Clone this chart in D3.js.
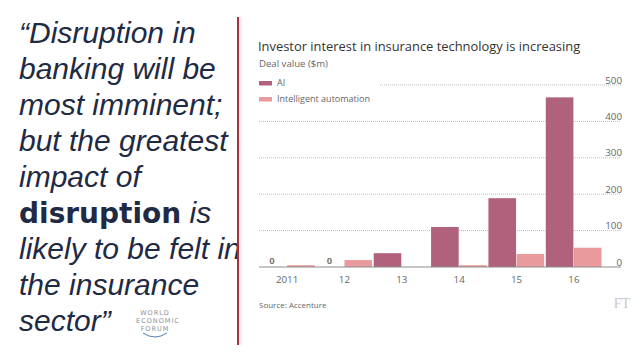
<!DOCTYPE html>
<html><head><meta charset="utf-8">
<script src="https://cdn.jsdelivr.net/npm/d3@7"></script>
<style>
html,body{margin:0;padding:0;background:#fff;}
svg{display:block;}
</style></head>
<body>
<svg id="c" width="638" height="359"></svg>
<script>
// ---- data ----
const years = ["2011", "12", "13", "14", "15", "16"];
const seriesNames = ["AI", "Intelligent automation"];
const aiValues = [0, 0, 38, 110, 189, 466];
const iaValues = [5, 19, 0, 5, 36, 53];
const yTicks = [0, 100, 200, 300, 400, 500];
const quoteLines = [
  [{t:"\u201CDisruption in", b:false}],
  [{t:"banking will be", b:false}],
  [{t:"most imminent;", b:false}],
  [{t:"but the greatest", b:false}],
  [{t:"impact of", b:false}],
  [{t:"disruption", b:true},{t:" is", b:false}],
  [{t:"likely to be felt in", b:false}],
  [{t:"the insurance", b:false}],
  [{t:"sector\u201D", b:false}]
];
const titleText = "Investor interest in insurance technology is increasing";
const subtitleText = "Deal value ($m)";
const sourceText = "Source: Accenture";

const colors = {AI:"#b0617b", IA:"#e89a9c"};
const svg = d3.select("#c");
const chartFont = "'Open Sans', Lato, sans-serif";

// ---- left quote ----
const q = svg.append("g").attr("fill", "#1f2a44");
quoteLines.forEach((line, i) => {
  const t = q.append("text").attr("x", 19).attr("y", 43 + i*36);
  line.forEach(seg => {
    t.append("tspan").text(seg.t)
      .attr("font-size", seg.b ? 28 : 30)
      .attr("font-family", seg.b ? "'DejaVu Sans', sans-serif" : "'Liberation Sans', Arial, sans-serif")
      .attr("font-weight", seg.b ? "bold" : "normal")
      .attr("font-style", seg.b ? "normal" : "italic");
  });
});

// WEF logo (text)
const wef = svg.append("g").attr("fill", "#8d9299").attr("font-family", "'DejaVu Sans', sans-serif")
  .attr("font-size", 6.5).attr("text-anchor", "middle").attr("letter-spacing", 1);
wef.append("text").attr("x", 155).attr("y", 315).text("WORLD");
wef.append("text").attr("x", 158).attr("y", 323).text("ECONOMIC");
wef.append("text").attr("x", 155).attr("y", 331).text("FORUM");
svg.append("path").attr("d", "M143,333 Q155,341 167,333").attr("fill","none")
  .attr("stroke","#4f7fb3").attr("stroke-width",1);

// red divider
svg.append("rect").attr("x", 239).attr("y", 17).attr("width", 3).attr("height", 328)
  .attr("fill", "#fbeef0");
svg.append("line").attr("x1", 238).attr("x2", 238).attr("y1", 17).attr("y2", 345)
  .attr("stroke", "#a4323f").attr("stroke-width", 2);

// ---- chart ----
const x0 = d3.scaleBand().domain(years).range([259, 602]).paddingInner(0.02);
const x1 = d3.scaleBand().domain(seriesNames).range([0, x0.bandwidth()]);
const y = d3.scaleLinear().domain([0, 500]).range([267, 85]);

// gridlines
const grid = svg.append("g");
yTicks.filter(v => v > 0).forEach(v => {
  grid.append("line")
    .attr("x1", v === 500 ? 380 : 259).attr("x2", 621)
    .attr("y1", y(v)).attr("y2", y(v))
    .attr("stroke", "#bdbdbd").attr("stroke-width", 1).attr("stroke-dasharray", "1,1");
});

// y axis labels (right)
const yAxis = d3.axisRight(y).tickValues(yTicks).tickSize(0).tickPadding(0);
const ya = svg.append("g").attr("transform", "translate(622,0)").call(yAxis);
ya.select(".domain").remove();
ya.selectAll("text").attr("text-anchor", "end").attr("dy", "-2")
  .attr("font-family", chartFont).attr("font-size", 9.8).attr("fill", "#666");

// bars
const data = years.map((yr, i) => ({yr, vals: [{k:"AI", v: aiValues[i]}, {k:"Intelligent automation", v: iaValues[i]}]}));
const groups = svg.append("g").selectAll("g").data(data).join("g")
  .attr("transform", d => `translate(${x0(d.yr)},0)`);
groups.selectAll("rect").data(d => d.vals.filter(e => e.v > 0)).join("rect")
  .attr("x", e => x1(e.k)).attr("width", x1.bandwidth() - 0.5)
  .attr("y", e => y(e.v)).attr("height", e => y(0) - y(e.v))
  .attr("fill", e => e.k === "AI" ? colors.AI : colors.IA);

// zero labels for AI
groups.filter(d => d.vals[0].v === 0).append("text")
  .attr("x", x1("AI") + x1.bandwidth()/2 - 1).attr("y", y(0) - 3)
  .attr("text-anchor", "middle").attr("font-family", chartFont).attr("font-weight", "bold")
  .attr("font-size", 9.5).attr("fill", "#7a7a7a").text("0");

// baseline
svg.append("line").attr("x1", 259).attr("x2", 621).attr("y1", y(0)).attr("y2", y(0))
  .attr("stroke", "#8c8c8c").attr("stroke-width", 1);

// x axis labels
const xAxis = d3.axisBottom(x0).tickSize(0).tickPadding(0);
const xa = svg.append("g").attr("transform", `translate(0,${y(0)})`).call(xAxis);
xa.select(".domain").remove();
xa.selectAll("text").attr("dy", "16").attr("font-family", chartFont)
  .attr("font-size", 9.8).attr("fill", "#666");

// title & subtitle
svg.append("text").attr("x", 258).attr("y", 51).text(titleText)
  .attr("font-family", chartFont).attr("font-size", 12.9).attr("fill", "#333");
svg.append("text").attr("x", 259).attr("y", 66.5).text(subtitleText)
  .attr("font-family", chartFont).attr("font-size", 9.6).attr("fill", "#666");

// legend
const leg = svg.append("g");
seriesNames.forEach((s, i) => {
  leg.append("rect").attr("x", 259).attr("y", 81 + i*16).attr("width", 13).attr("height", 4.5)
    .attr("fill", i === 0 ? colors.AI : colors.IA);
  leg.append("text").attr("x", 277).attr("y", 86 + i*16).text(s)
    .attr("font-family", chartFont).attr("font-size", 9).attr("fill", "#666");
});

// source & FT
svg.append("text").attr("x", 259).attr("y", 308).text(sourceText)
  .attr("font-family", chartFont).attr("font-size", 8).attr("fill", "#666");
svg.append("text").attr("x", 630).attr("y", 308).attr("text-anchor", "end").text("FT")
  .attr("font-family", "'Liberation Serif', serif").attr("font-size", 14).attr("fill", "#c8c8c8");
</script>
</body></html>
